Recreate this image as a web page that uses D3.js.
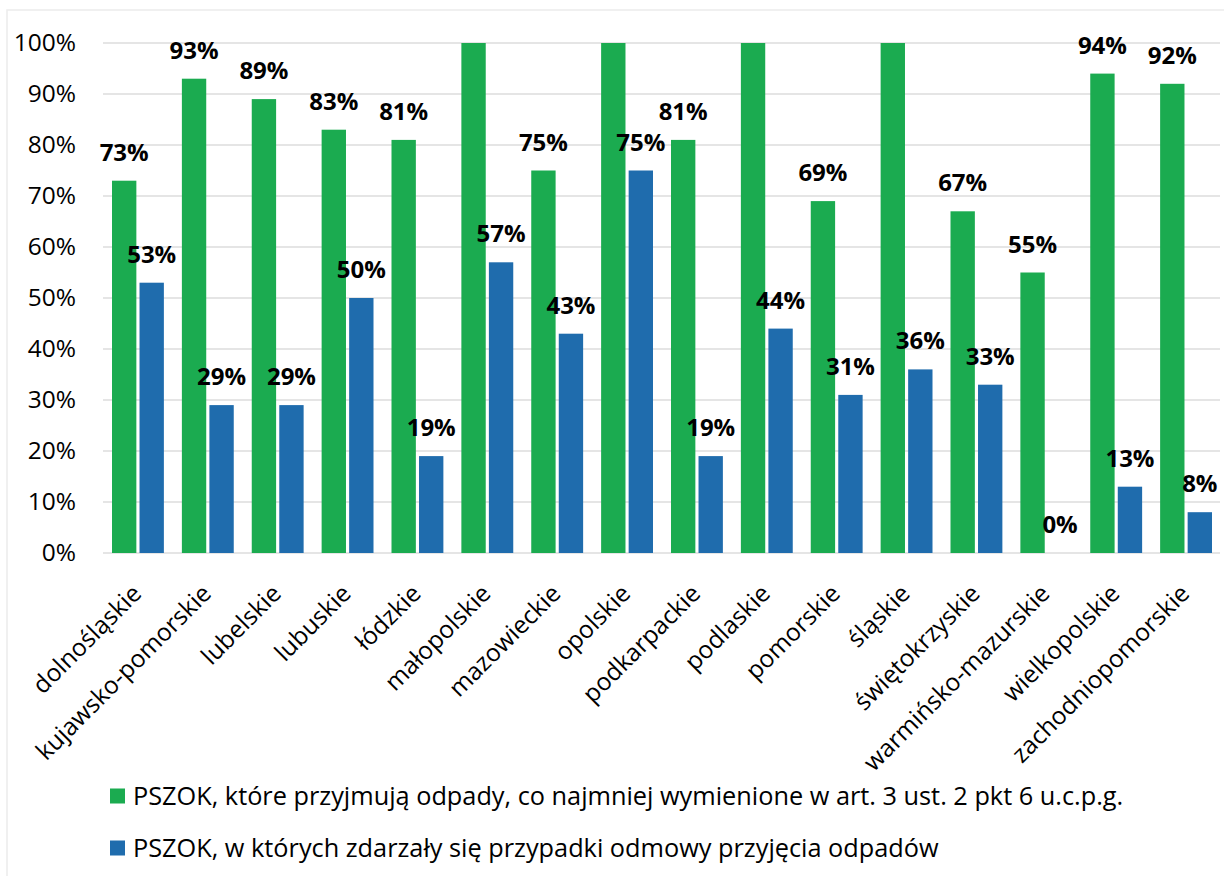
<!DOCTYPE html>
<html>
<head>
<meta charset="utf-8">
<script src="https://cdn.jsdelivr.net/npm/d3@7"></script>
<style>
  html, body { margin: 0; padding: 0; background: #fff; }
  svg { display: block; }
  text { font-family: "Open Sans", sans-serif; fill: #000; }
</style>
</head>
<body>
<svg id="chart" width="1224" height="876"></svg>
<script>
// ---- data ----
const categories = ["dolnośląskie", "kujawsko-pomorskie", "lubelskie", "lubuskie", "łódzkie",
  "małopolskie", "mazowieckie", "opolskie", "podkarpackie", "podlaskie", "pomorskie",
  "śląskie", "świętokrzyskie", "warmińsko-mazurskie", "wielkopolskie", "zachodniopomorskie"];
const acceptingValues = [73, 93, 89, 83, 81, 100, 75, 100, 81, 100, 69, 100, 67, 55, 94, 92];
const refusalValues   = [53, 29, 29, 50, 19, 57, 43, 75, 19, 44, 31, 36, 33, 0, 13, 8];
const seriesNames = [
  "PSZOK, które przyjmują odpady, co najmniej wymienione w art. 3 ust. 2 pkt 6 u.c.p.g.",
  "PSZOK, w których zdarzały się przypadki odmowy przyjęcia odpadów"
];
const yTicks = [0, 10, 20, 30, 40, 50, 60, 70, 80, 90, 100];

// ---- layout ----
const colors = ["#1bab50", "#1f6cad"];
const svg = d3.select("#chart");
const plot = { left: 103, right: 1221, top: 43, bottom: 553 };

const x = d3.scaleBand().domain(categories).range([plot.left, plot.right]).paddingInner(0).paddingOuter(0);
const x1 = d3.scaleBand().domain([0, 1]).range([9, x.bandwidth() - 9]).paddingInner(0.115);
const y = d3.scaleLinear().domain([0, 100]).range([plot.bottom, plot.top]);

// chart border (faint)
svg.append("rect").attr("x", 7).attr("y", 10).attr("width", 1230).attr("height", 900)
  .attr("fill", "none").attr("stroke", "#ececec").attr("stroke-width", 1.5);

// gridlines
svg.append("g").selectAll("line").data(yTicks).join("line")
  .attr("x1", plot.left).attr("x2", 1220)
  .attr("y1", d => y(d)).attr("y2", d => y(d))
  .attr("stroke", "#dcdcdc").attr("stroke-width", 1.5);

// y axis labels
const yAxis = d3.axisLeft(y).tickValues(yTicks).tickFormat(d => d + "%").tickSize(0).tickPadding(0);
const yG = svg.append("g").attr("transform", "translate(76,0)").call(yAxis);
yG.select(".domain").remove();
yG.selectAll("text").attr("font-size", 24.5).attr("font-family", "Open Sans, sans-serif").attr("fill", "#000");

// bars
const series = [acceptingValues, refusalValues];
const groups = svg.append("g").selectAll("g").data(categories).join("g")
  .attr("transform", d => `translate(${x(d)},0)`);
groups.selectAll("rect").data((d, i) => series.map((s, k) => ({ k, v: s[i] }))).join("rect")
  .attr("x", d => x1(d.k))
  .attr("width", x1.bandwidth())
  .attr("y", d => y(d.v))
  .attr("height", d => y(0) - y(d.v))
  .attr("fill", d => colors[d.k]);

// value labels (labels of 100% bars fall outside the plot area and are hidden)
groups.selectAll("text.val").data((d, i) => series.map((s, k) => ({ k, v: s[i] }))).join("text")
  .attr("class", "val")
  .filter(d => d.v < 100)
  .attr("x", d => x1(d.k) + x1.bandwidth() / 2)
  .attr("y", d => y(d.v) - 20)
  .attr("text-anchor", "middle")
  .attr("font-size", 24).attr("font-weight", "bold")
  .text(d => d.v + "%");

// x axis labels
const xAxis = d3.axisBottom(x).tickSize(0).tickPadding(0);
const xG = svg.append("g").attr("transform", `translate(0,${plot.bottom})`).call(xAxis);
xG.select(".domain").remove();
xG.selectAll("text")
  .attr("font-size", 24.5).attr("font-family", "Open Sans, sans-serif").attr("fill", "#000")
  .attr("text-anchor", "end")
  .attr("dy", 0).attr("y", 0)
  .attr("transform", "translate(5,42) rotate(-45)");

// legend
const legend = svg.append("g").selectAll("g").data(seriesNames).join("g")
  .attr("transform", (d, i) => `translate(110,${796 + i * 52})`);
legend.append("rect").attr("x", 0).attr("y", -7.5).attr("width", 15).attr("height", 15)
  .attr("fill", (d, i) => colors[i]);
legend.append("text").attr("x", 23).attr("y", 9).attr("font-size", 25.3).text(d => d);
</script>
</body>
</html>
